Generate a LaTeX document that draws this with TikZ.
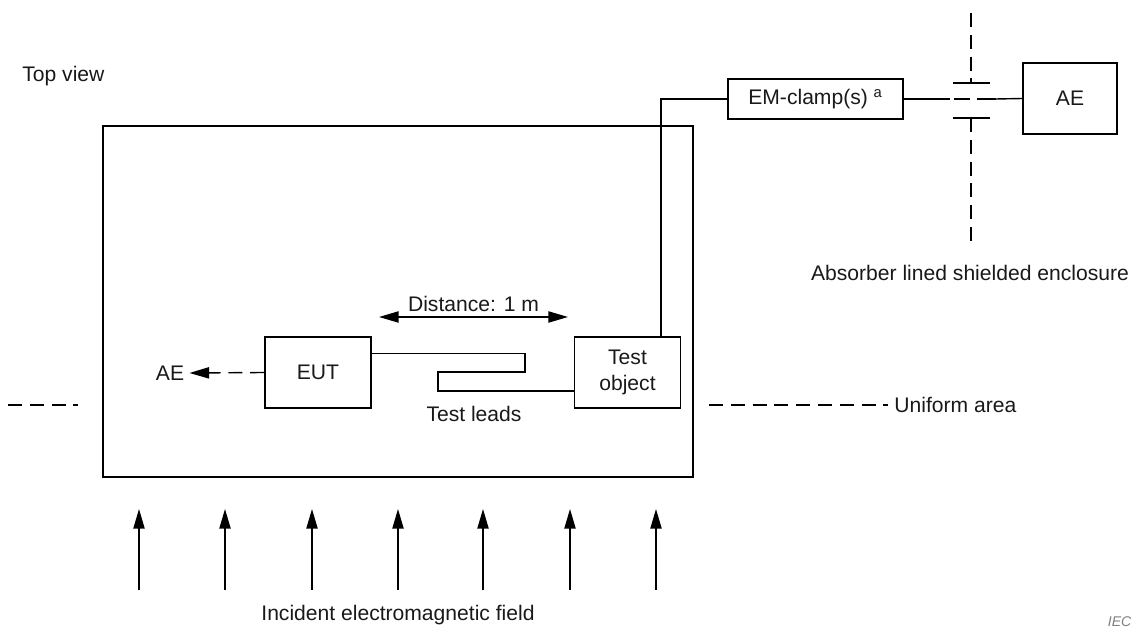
\documentclass[tikz,border=0pt]{standalone}
\usepackage{fontspec}
\setmainfont{Liberation Sans}
\usetikzlibrary{arrows.meta,positioning}

\tikzset{
  testo/.style={font=\fontsize{15}{18}\selectfont, text=black!90},
  box/.style={draw, line width=1pt, inner sep=0pt, minimum width=2.65cm, minimum height=1.775cm, align=center},
  tratto/.style={line width=1pt, dash pattern=on 10pt off 5.5pt},
  punta/.style={-{Triangle[length=14pt,width=8pt]}},
  doppia/.style={{Triangle[length=14pt,width=8pt]}-{Triangle[length=14pt,width=8pt]}},
}

\begin{document}
\begin{tikzpicture}[x=0.025cm, y=-0.025cm, line width=1pt, every node/.style={testo}]
        \useasboundingbox (0,0) rectangle (1133,628);
        \clip (0,0) rectangle (1133,628);

        % --- Titolo ---
        \node[anchor=west] (vista) at (17,76) {Top view};

        % --- Area di prova ---
        \draw (103,126) rectangle (693,477);

        % Blocchi
        \node[box] (eut) at (318,372.5) {EUT};
        \node[box] (obj) at (627.5,372.5) {Test\\object};
        \node[box, minimum width=4.375cm, minimum height=1cm] (clamp) at (815.5,99) {EM-clamp(s) \textsuperscript{a}};
        \node[box, minimum width=2.35cm] (ae) at (1070,98.5) {AE};
        \node (aeL) at (170,373) {AE};

        % Collegamenti
        \draw[tratto, punta] (eut.west) -- (aeL.east);
        \draw (eut.north east) ++(0,17) -| (525,372) -- (438,372) -- (438,391) -- (obj.west |- 0,391);
        \node (leads) at (474,414) {Test leads};
        \draw (obj.north) ++(33.5,0) |- (clamp.west);

        % --- Parete schermata ---
        \coordinate (pw1) at (950,99);
        \coordinate (pw2) at (996,99);
        \draw (clamp.east) -- (pw1);
        \draw[dash pattern=on 0pt off 3pt on 11pt off 5pt on 20pt] (pw1) -- (pw2);
        \draw (pw2) -- (ae.west);
        \draw (953,83) -- (990,83);
        \draw (953,118) -- (990,118);
        \draw[tratto] (971,13) -- (971,83);
        \draw[tratto] (971,118) -- (971,248);
        \node (schermo) at (970,273) {Absorber lined shielded enclosure};

        % --- Distanza ---
        \coordinate (dL) at (379,317);
        \coordinate (dR) at (568,317);
        \draw[doppia] (dL) -- (dR) node[midway, above] (dist) {Distance: 1 m};

        % --- Area uniforme ---
        \draw[tratto] (8,405) -- (78,405);
        \draw[tratto] (709,405) -- (888,405);
        \node[anchor=west] (unif) at (889,405) {Uniform area};

        % --- Campo incidente ---
        \foreach \x in {139,225,312,398,483,570,656}
            \draw[punta] (\x,590) -- (\x,509);
        \node (campo) at (398,615) {Incident electromagnetic field};

        \node[anchor=east, inner sep=0pt, font=\itshape\fontsize{10}{12}\selectfont, text=gray] (iec) at (1132,622) {IEC};
\end{tikzpicture}
\end{document}
